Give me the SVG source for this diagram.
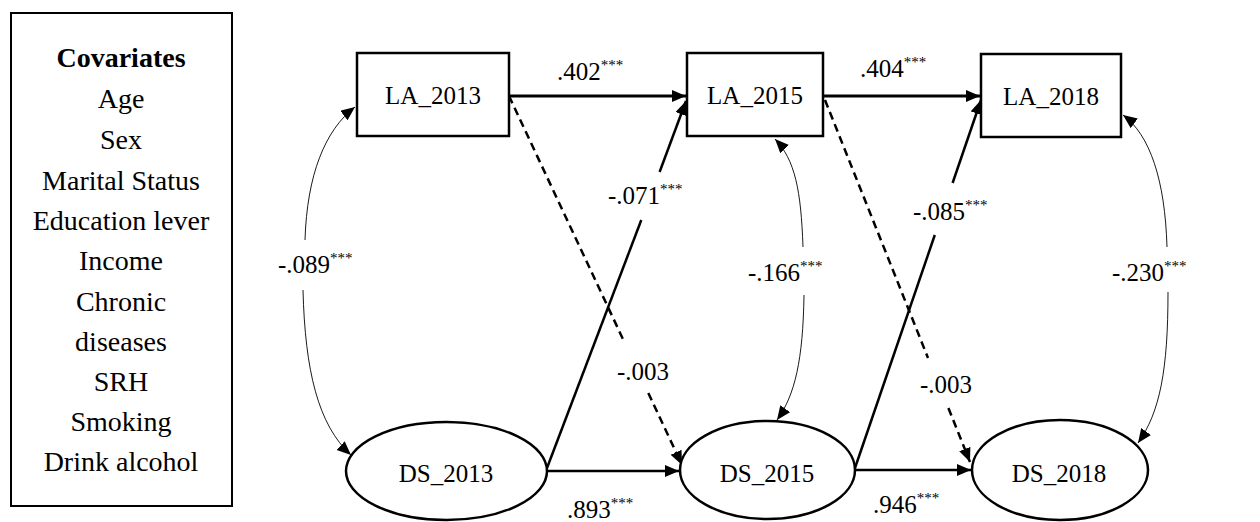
<svg xmlns="http://www.w3.org/2000/svg" width="1260" height="522" viewBox="0 0 1260 522" font-family="'Liberation Serif', 'Times New Roman', 'DejaVu Serif', serif">
<style>
text{font-family:'Liberation Serif','Times New Roman','DejaVu Serif',serif;fill:#000}
.cov{font-size:28px;text-anchor:middle}
.node{font-size:25px;text-anchor:middle}
.lbl{font-size:25px}
.sup{font-size:15px}
.box{fill:#fff;stroke:#000;stroke-width:2.5}
.path{fill:none;stroke:#000;stroke-width:2.5}
.thick{fill:none;stroke:#000;stroke-width:3.2}
.dash{fill:none;stroke:#000;stroke-width:2.5;stroke-dasharray:8 5}
.thin{fill:none;stroke:#000;stroke-width:0.9}
</style>
<defs>
<marker id="ah" markerUnits="userSpaceOnUse" markerWidth="16" markerHeight="14" refX="14" refY="6" orient="auto">
<path d="M0,0 L14,6 L0,12 z" fill="#000"/>
</marker>
</defs>
<g id="covariates">
<rect x="11" y="13" width="221" height="493" fill="#fff" stroke="#000" stroke-width="2"/>
<text class="cov" x="121" y="67" font-weight="bold">Covariates</text>
<text class="cov" x="121" y="108">Age</text>
<text class="cov" x="121" y="149">Sex</text>
<text class="cov" x="121" y="190">Marital Status</text>
<text class="cov" x="121" y="230">Education lever</text>
<text class="cov" x="121" y="270">Income</text>
<text class="cov" x="121" y="311">Chronic</text>
<text class="cov" x="121" y="351">diseases</text>
<text class="cov" x="121" y="391">SRH</text>
<text class="cov" x="121" y="431">Smoking</text>
<text class="cov" x="121" y="471">Drink alcohol</text>
</g>
<g id="connectors">
<line class="thick" x1="509" y1="96" x2="686" y2="96" marker-end="url(#ah)"/>
<line class="thick" x1="823" y1="96" x2="980" y2="96" marker-end="url(#ah)"/>
<line class="path" x1="547" y1="471" x2="679" y2="471" marker-end="url(#ah)"/>
<line class="path" x1="855" y1="470" x2="971" y2="470" marker-end="url(#ah)"/>
<line class="path" x1="547" y1="468" x2="641.3" y2="220"/>
<line class="path" x1="659.6" y1="172" x2="686" y2="101" marker-end="url(#ah)"/>
<line class="path" x1="855" y1="468" x2="934.8" y2="235"/>
<line class="path" x1="952.6" y1="183" x2="981" y2="100" marker-end="url(#ah)"/>
<line class="dash" x1="509" y1="96" x2="624.8" y2="343"/>
<line class="dash" x1="648.3" y1="393" x2="682" y2="465" marker-end="url(#ah)"/>
<line class="dash" x1="825" y1="100" x2="928" y2="358"/>
<line class="dash" x1="948.4" y1="408" x2="970" y2="462" marker-end="url(#ah)"/>
<path class="thin" d="M305,240 C307,175 325,130 355,107" marker-end="url(#ah)"/>
<path class="thin" d="M303,290 C305,370 318,425 351,455" marker-end="url(#ah)"/>
<path class="thin" d="M803,247 C801,190 795,160 775,139" marker-end="url(#ah)"/>
<path class="thin" d="M804,295 C803,360 795,395 777,420" marker-end="url(#ah)"/>
<path class="thin" d="M1167,247 C1165,180 1150,135 1123,115" marker-end="url(#ah)"/>
<path class="thin" d="M1168,292 C1168,370 1160,412 1138,443" marker-end="url(#ah)"/>
</g>
<g id="LA_2013">
<rect class="box" x="357" y="53" width="152" height="83"/>
<text class="node" x="433" y="104">LA_2013</text>
</g>
<g id="LA_2015">
<rect class="box" x="687" y="53" width="136" height="83"/>
<text class="node" x="755" y="104">LA_2015</text>
</g>
<g id="LA_2018">
<rect class="box" x="981" y="54" width="140" height="83"/>
<text class="node" x="1051" y="105">LA_2018</text>
</g>
<g id="DS_2013">
<ellipse class="box" cx="446.5" cy="471" rx="100.5" ry="49"/>
<text class="node" x="446" y="482">DS_2013</text>
</g>
<g id="DS_2015">
<ellipse class="box" cx="767.5" cy="470" rx="87.5" ry="49"/>
<text class="node" x="767" y="482">DS_2015</text>
</g>
<g id="DS_2018">
<ellipse class="box" cx="1060" cy="470" rx="88" ry="50"/>
<text class="node" x="1059" y="482">DS_2018</text>
</g>
<g id="labels">
<text class="lbl" x="557" y="80">.402<tspan class="sup" dy="-10">***</tspan></text>
<text class="lbl" x="860" y="77">.404<tspan class="sup" dy="-10">***</tspan></text>
<text class="lbl" x="608" y="204">-.071<tspan class="sup" dy="-10">***</tspan></text>
<text class="lbl" x="913" y="220">-.085<tspan class="sup" dy="-10">***</tspan></text>
<text class="lbl" x="278" y="273">-.089<tspan class="sup" dy="-10">***</tspan></text>
<text class="lbl" x="748" y="281">-.166<tspan class="sup" dy="-10">***</tspan></text>
<text class="lbl" x="1112" y="281">-.230<tspan class="sup" dy="-10">***</tspan></text>
<text class="lbl" x="617" y="380">-.003</text>
<text class="lbl" x="920" y="393">-.003</text>
<text class="lbl" x="567" y="518">.893<tspan class="sup" dy="-10">***</tspan></text>
<text class="lbl" x="873" y="513">.946<tspan class="sup" dy="-10">***</tspan></text>
</g>
</svg>
